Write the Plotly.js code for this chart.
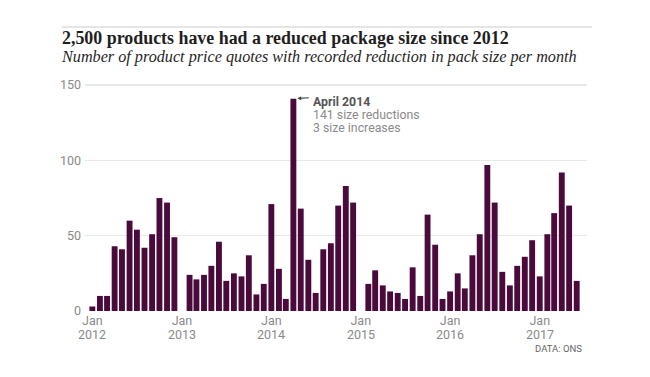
<!DOCTYPE html>
<html>
<head>
<meta charset="utf-8">
<script src="https://cdn.plot.ly/plotly-3.0.1.min.js"></script>
<style>
  html, body { margin: 0; padding: 0; background: #fff; }
  #chart { width: 650px; height: 377px; }
</style>
</head>
<body>
<div id="chart"></div>
<script>
// ---- Data ----
const years = [2012, 2013, 2014, 2015, 2016, 2017];
const reductions2012 = [3, 10, 10, 43, 41, 60, 54, 42, 51, 75, 72, 49];
const reductions2013 = [null, 24, 21, 24, 30, 46, 20, 25, 23, 37, 11, 18];
const reductions2014 = [71, 28, 8, 141, 68, 34, 12, 41, 45, 70, 83, 72];
const reductions2015 = [null, 18, 27, 17, 13, 12, 8, 29, 10, 64, 44, 8];
const reductions2016 = [13, 25, 15, 37, 51, 97, 72, 26, 17, 30, 36, 47];
const reductions2017 = [23, 51, 65, 92, 70, 20];
const tickVals = ['2012-01-01', '2013-01-01', '2014-01-01', '2015-01-01', '2016-01-01', '2017-01-01'];
const tickMonth = ['Jan', 'Jan', 'Jan', 'Jan', 'Jan', 'Jan'];
const tickYear = ['2012', '2013', '2014', '2015', '2016', '2017'];
const yTicks = [0, 50, 100, 150];
const noteLines = ['April 2014', '141 size reductions', '3 size increases'];
const noteDate = '2014-04-01';
const noteValue = 141;

const perYear = [reductions2012, reductions2013, reductions2014, reductions2015, reductions2016, reductions2017];
const months = [];
const values = [];
perYear.forEach((arr, i) => {
  arr.forEach((v, m) => {
    months.push(years[i] + '-' + String(m + 1).padStart(2, '0') + '-01');
    values.push(v);
  });
});

const DAY = 86400000;
const sans = 'Roboto, "Liberation Sans", sans-serif';
const serif = '"Liberation Serif", "DejaVu Serif", serif';
const tickColor = '#8a8a8a';

const trace = {
  type: 'bar',
  x: months,
  y: values,
  width: 24 * DAY,
  marker: { color: '#4a0b3c' },
  hoverinfo: 'x+y'
};

const annotations = [
  {
    text: '<i>Number of product price quotes with recorded reduction in pack size per month</i>',
    xref: 'paper', yref: 'paper',
    x: (59 - 85) / 502, xanchor: 'left',
    y: 1 + (80 - 57) / 231, yanchor: 'middle',
    showarrow: false,
    font: { family: serif, size: 16.2, color: '#1f1f1f' }
  },
  {
    text: 'DATA: ONS',
    xref: 'paper', yref: 'paper',
    x: (584 - 85) / 502, xanchor: 'right',
    y: (311 - 348) / 231, yanchor: 'middle',
    showarrow: false,
    font: { family: sans, size: 9.5, color: '#666666' }
  },
  {
    text: '',
    x: noteDate, y: noteValue, xref: 'x', yref: 'y',
    showarrow: true,
    ax: 17, ay: -1,
    arrowhead: 2, arrowsize: 0.7, arrowwidth: 1.1,
    arrowcolor: '#444444',
    standoff: 4
  }
];

// year labels under each "Jan" tick
tickVals.forEach((d, i) => {
  annotations.push({
    text: tickYear[i],
    x: d, xref: 'x', xanchor: 'center',
    y: 0, yref: 'paper', yanchor: 'middle',
    yshift: -23.5,
    showarrow: false,
    font: { family: sans, size: 12.5, color: tickColor }
  });
});

// callout text lines
const noteShift = [-3, -16, -29];
noteLines.forEach((t, i) => {
  annotations.push({
    text: i === 0 ? '<b>' + t + '</b>' : t,
    x: noteDate, y: noteValue, xref: 'x', yref: 'y',
    xanchor: 'left', yanchor: 'middle', align: 'left',
    xshift: 18, yshift: noteShift[i],
    showarrow: false,
    font: { family: sans, size: 12.3, color: i === 0 ? '#555555' : '#8a8a8a' }
  });
});

const layout = {
  width: 650,
  height: 377,
  margin: { l: 85, r: 63, t: 80, b: 66 },
  paper_bgcolor: '#ffffff',
  plot_bgcolor: '#ffffff',
  showlegend: false,
  title: {
    text: '2,500 products have had a reduced package size since 2012',
    font: { family: serif, size: 17.9, color: '#1f1f1f', weight: 'bold' },
    xref: 'container', x: 62 / 650, xanchor: 'left',
    yref: 'container', y: 1 - 38 / 377, yanchor: 'middle'
  },
  xaxis: {
    type: 'date',
    range: ['2011-12-02', '2017-07-13'],
    tickvals: tickVals,
    ticktext: tickMonth,
    showgrid: false,
    zeroline: false,
    showline: false,
    ticks: '',
    tickfont: { family: sans, size: 12.5, color: tickColor },
    fixedrange: true
  },
  yaxis: {
    range: [0, 153.4],
    tickvals: yTicks,
    showgrid: true,
    gridcolor: '#e8e8e8',
    gridwidth: 1.3,
    zeroline: false,
    showline: false,
    ticks: '',
    ticklabelstandoff: 3,
    tickfont: { family: sans, size: 12.5, color: tickColor },
    fixedrange: true
  },
  shapes: [
    {
      type: 'line', xref: 'paper', yref: 'paper',
      x0: (62 - 85) / 502, x1: (592 - 85) / 502,
      y0: 1 + (80 - 27) / 231, y1: 1 + (80 - 27) / 231,
      line: { color: '#dcdcdc', width: 1.5 }
    }
  ],
  annotations: annotations
};

Plotly.newPlot('chart', [trace], layout, { displayModeBar: false, staticPlot: true });
</script>
</body>
</html>
